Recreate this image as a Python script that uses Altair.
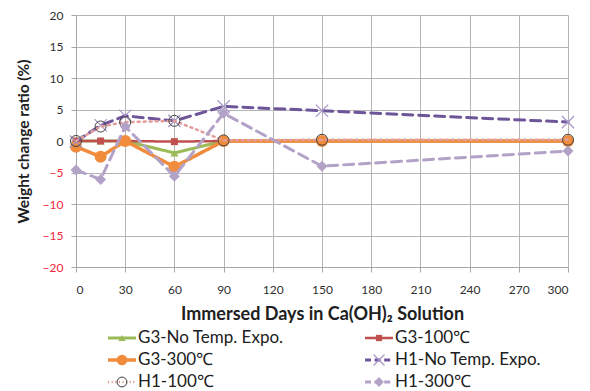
import altair as alt
import pandas as pd

# Weight change (%) of G3 / H1 specimens after immersion in Ca(OH)2 solution
days = [0, 15, 30, 60, 90, 150, 300]
series_names = ["G3-No Temp. Expo.", "G3-100℃", "G3-300℃",
                "H1-No Temp. Expo.", "H1-100℃", "H1-300℃"]
g3_no_temp = [0.0, 0.0, 0.0, -1.9, 0.0, 0.0, 0.0]
g3_100 = [0.0, 0.0, 0.0, -0.1, 0.0, 0.0, 0.0]
g3_300 = [-0.9, -2.5, 0.0, -4.1, 0.0, 0.0, 0.0]
h1_no_temp = [-0.1, 2.5, 4.0, 3.2, 5.5, 4.8, 3.0]
h1_100 = [0.0, 2.3, 3.0, 3.2, 0.1, 0.2, 0.2]
h1_300 = [-4.6, -6.1, 2.3, -5.6, 4.4, -4.0, -1.6]
x_ticks = list(range(0, 301, 30))
y_ticks = list(range(-20, 21, 5))

values = [g3_no_temp, g3_100, g3_300, h1_no_temp, h1_100, h1_300]
df = pd.DataFrame(
    [{"series": s, "day": d, "ratio": v}
     for s, vals in zip(series_names, values)
     for d, v in zip(days, vals)]
)

FONT = "Lato"
X_PATH = "M-1,-1L1,1M-1,1L1,-1"

# line + marker styling for each series
styles = {
    "G3-No Temp. Expo.": dict(color="#9BBB59", width=3, dash=[1, 0], shape="triangle-up",
                              size=64, filled=True, mstroke="#9BBB59", mwidth=0),
    "G3-100℃": dict(color="#C0504D", width=2.5, dash=[1, 0], shape="square",
                    size=49, filled=True, mstroke="#C0504D", mwidth=0),
    "G3-300℃": dict(color="#F08C3C", width=3.5, dash=[1, 0], shape="circle",
                    size=144, filled=True, mstroke="#F08C3C", mwidth=0),
    "H1-No Temp. Expo.": dict(color="#6E5499", width=3, dash=[10, 6], shape=X_PATH,
                              size=150, filled=False, mstroke="#A796C8", mwidth=1.2),
    "H1-100℃": dict(color="#E39E9C", width=2.5, dash=[2, 4], shape="circle",
                    size=121, filled=False, mstroke="#404040", mwidth=1),
    "H1-300℃": dict(color="#B3A2C7", width=3, dash=[10, 6], shape="diamond",
                    size=120, filled=True, mstroke="#B3A2C7", mwidth=0),
}

x_enc = alt.X("day:Q", scale=alt.Scale(domain=[0, 300], nice=False),
              axis=alt.Axis(values=x_ticks, title="Immersed Days in Ca(OH)₂ Solution",
                            grid=True, gridColor="#B4B4B4", domainColor="#A6A6A6",
                            tickColor="#A6A6A6", tickSize=5, labelFont=FONT,
                            labelFontSize=12, labelColor="#303030", labelPadding=12,
                            titleFont=FONT, titleFontSize=18, titleFontWeight="bold",
                            titleColor="#202020", titlePadding=10))
y_enc = alt.Y("ratio:Q", scale=alt.Scale(domain=[-20, 20], nice=False),
              axis=alt.Axis(values=y_ticks, title="Weight change ratio (%)",
                            grid=True, gridColor="#B4B4B4", domainColor="#A6A6A6",
                            tickColor="#A6A6A6", tickSize=5, labelFont=FONT,
                            labelFontSize=12, labelPadding=8, labelOverlap=False,
                            labelColor={"condition": {"test": "datum.value < 0",
                                                      "value": "#F0283C"},
                                        "value": "#303030"},
                            titleFont=FONT, titleFontSize=15.5, titleFontWeight="bold",
                            titleColor="#202020", titlePadding=11))

layers = []
for name in series_names:
    st = styles[name]
    sub = alt.Chart(df).transform_filter(alt.datum.series == name)
    layers.append(sub.mark_line(color=st["color"], strokeWidth=st["width"],
                                strokeDash=st["dash"], strokeCap="round")
                  .encode(x=x_enc, y=y_enc))
    layers.append(sub.mark_point(shape=st["shape"], size=st["size"], filled=st["filled"],
                                 fill=st["color"] if st["filled"] else None,
                                 stroke=st["mstroke"], strokeWidth=st["mwidth"],
                                 opacity=1)
                  .encode(x=x_enc, y=y_enc))

# legend below the plot: two columns, three rows
legend_df = pd.DataFrame({"series": series_names,
                          "idx": list(range(len(series_names)))})
leg = (alt.Chart(legend_df)
       .transform_calculate(col="datum.idx % 2", row="floor(datum.idx / 2)")
       .transform_calculate(lx="32 + 257 * datum.col", ly="323 + 22 * datum.row")
       .transform_calculate(lx2="datum.lx + 28", lm="datum.lx + 14",
                            tx="datum.lx + 30"))
for name in series_names:
    st = styles[name]
    one = leg.transform_filter(alt.datum.series == name)
    layers.append(one.mark_rule(color=st["color"], strokeWidth=st["width"],
                                strokeDash=[d * 0.6 for d in st["dash"]] if st["dash"] != [1, 0] else [1, 0])
                  .encode(x=alt.X("lx:Q", scale=None, axis=None),
                          x2="lx2:Q",
                          y=alt.Y("ly:Q", scale=None, axis=None)))
    layers.append(one.mark_point(shape=st["shape"], size=st["size"] * 0.8,
                                 filled=st["filled"],
                                 fill=st["color"] if st["filled"] else None,
                                 stroke=st["mstroke"], strokeWidth=st["mwidth"], opacity=1)
                  .encode(x=alt.X("lm:Q", scale=None, axis=None),
                          y=alt.Y("ly:Q", scale=None, axis=None)))
layers.append(leg.mark_text(align="left", baseline="middle", font=FONT, fontSize=17,
                            color="#202020")
              .encode(x=alt.X("tx:Q", scale=None, axis=None),
                      y=alt.Y("ly:Q", scale=None, axis=None),
                      text="series:N"))

chart = (alt.layer(*layers)
         .properties(width=492, height=252,
                     autosize=alt.AutoSizeParams(type="none"),
                     padding={"left": 76, "top": 15, "right": 22, "bottom": 124},
                     background="white")
         .configure_view(stroke=None))

chart.save("out.html", embed_options={"renderer": "svg", "actions": False})
